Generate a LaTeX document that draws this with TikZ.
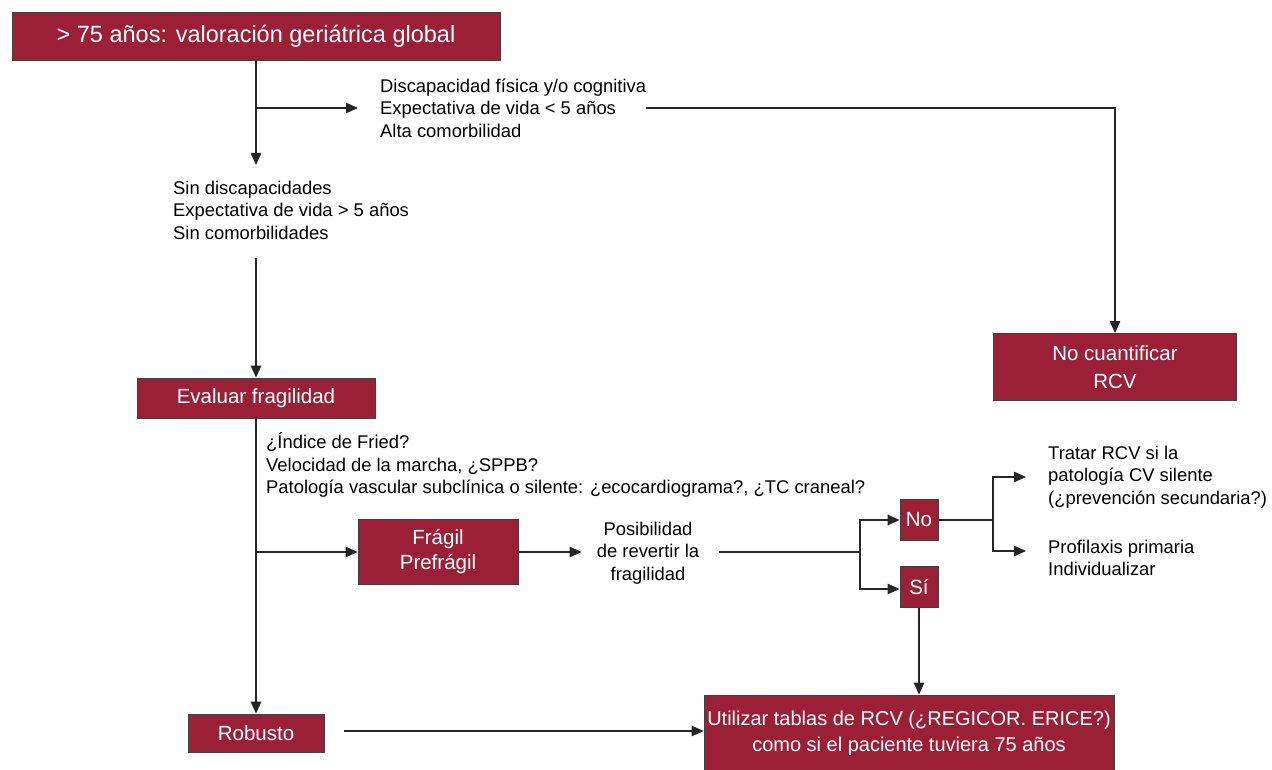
\documentclass[tikz,border=0pt]{standalone}
\usepackage{fontspec}
\setmainfont{Liberation Sans}
\usepackage{xcolor}
\usepackage{tikz}
\usetikzlibrary{positioning,arrows.meta}
\definecolor{boxred}{RGB}{155,32,54}

\begin{document}
\begin{tikzpicture}[x=1pt, y=-1pt,
    box/.style={draw=black!75, line width=0.8pt, fill=boxred, text=white,
      align=center, inner sep=0pt, font=\fontsize{20.5}{25}\selectfont},
    note/.style={align=left, inner sep=0pt, font=\fontsize{18.4}{22.5}\selectfont},
    link/.style={draw=black!85, line width=1.2pt},
    arr/.style={link, -{Triangle[length=12pt, width=10.5pt]}}]
  \useasboundingbox (0,0) rectangle (1272,770);

  % Boxes of the flow chart
  \node[box, minimum width=488, minimum height=48, font=\fontsize{23.5}{28}\selectfont]
    (top) at (256,36) {> 75 años: valoración geriátrica global};
  \node[box, minimum width=243, minimum height=67, font=\fontsize{20.5}{28}\selectfont]
    (nocuant) at (1115,367) {No cuantificar\\RCV};
  \node[box, minimum width=238, minimum height=40] (evaluar) at (256,398) {Evaluar fragilidad};
  \node[box, minimum width=160, minimum height=65] (fragil) at (438,552) {Frágil\\Prefrágil};
  \node[box, minimum width=38, minimum height=41] (no) at (919,520) {No};
  \node[box, minimum width=38, minimum height=41] (si) at (919,587) {Sí};
  \node[box, minimum width=136, minimum height=38] (robusto) at (256,733) {Robusto};
  \node[box, minimum width=410, minimum height=76, font=\fontsize{20}{26}\selectfont]
    (utilizar) at (909,733) {Utilizar tablas de RCV (¿REGICOR. ERICE?)\\como si el paciente tuviera 75 años};

  % Plain texts
  \node[note, anchor=west] (discap) at (380,108)
    {Discapacidad física y/o cognitiva\\Expectativa de vida < 5 años\\Alta comorbilidad};
  \node[note, anchor=west] (sindis) at (173,210)
    {Sin discapacidades\\Expectativa de vida > 5 años\\Sin comorbilidades};
  \node[note, anchor=west] (fried) at (266,465)
    {¿Índice de Fried?\\Velocidad de la marcha, ¿SPPB?\\Patología vascular subclínica o silente: ¿ecocardiograma?, ¿TC craneal?};
  \node[note, align=center] (posib) at (648,553) {Posibilidad\\de revertir la\\fragilidad};
  \node[note, anchor=west] (tratar) at (1048,477)
    {Tratar RCV si la\\patología CV silente\\(¿prevención secundaria?)};
  \node[note, anchor=west] (profil) at (1048,558) {Profilaxis primaria\\Individualizar};

  % Split points
  \coordinate (c1) at (256,165);
  \coordinate (c2) at (256,258);
  \coordinate (split1) at (860,552);
  \coordinate (split2) at (993,520);

  % Connectors
  \draw[arr] (top.south) -- (c1);
  \draw[arr] (top.south |- discap.west) -- ([xshift=-22pt]discap.west);
  \draw[arr] (discap.east) -| (nocuant.north);
  \draw[arr] (c2) -- (evaluar.north);
  \draw[arr] (evaluar.south) -- (robusto.north);
  \draw[arr] (evaluar.south |- fragil.west) -- (fragil.west);
  \draw[arr] (fragil.east) -- ([xshift=-15pt]fragil.east -| posib.west);
  \draw[link] ([xshift=20pt]posib.east |- split1) -- (split1);
  \draw[arr] (split1) |- (no.west);
  \draw[arr] (split1) |- ([yshift=-2pt]si.west);
  \draw[link] (no.east) -- (split2);
  \draw[arr] (split2) |- ([xshift=-22pt]tratar.west);
  \draw[arr] (split2) |- ([xshift=-22pt,yshift=7pt]profil.west);
  \draw[arr] (si.south) -- (si.south |- utilizar.north);
  \draw[arr] ([xshift=20pt,yshift=2pt]robusto.east) -- ([yshift=2pt]robusto.east -| utilizar.west);
\end{tikzpicture}
\end{document}
